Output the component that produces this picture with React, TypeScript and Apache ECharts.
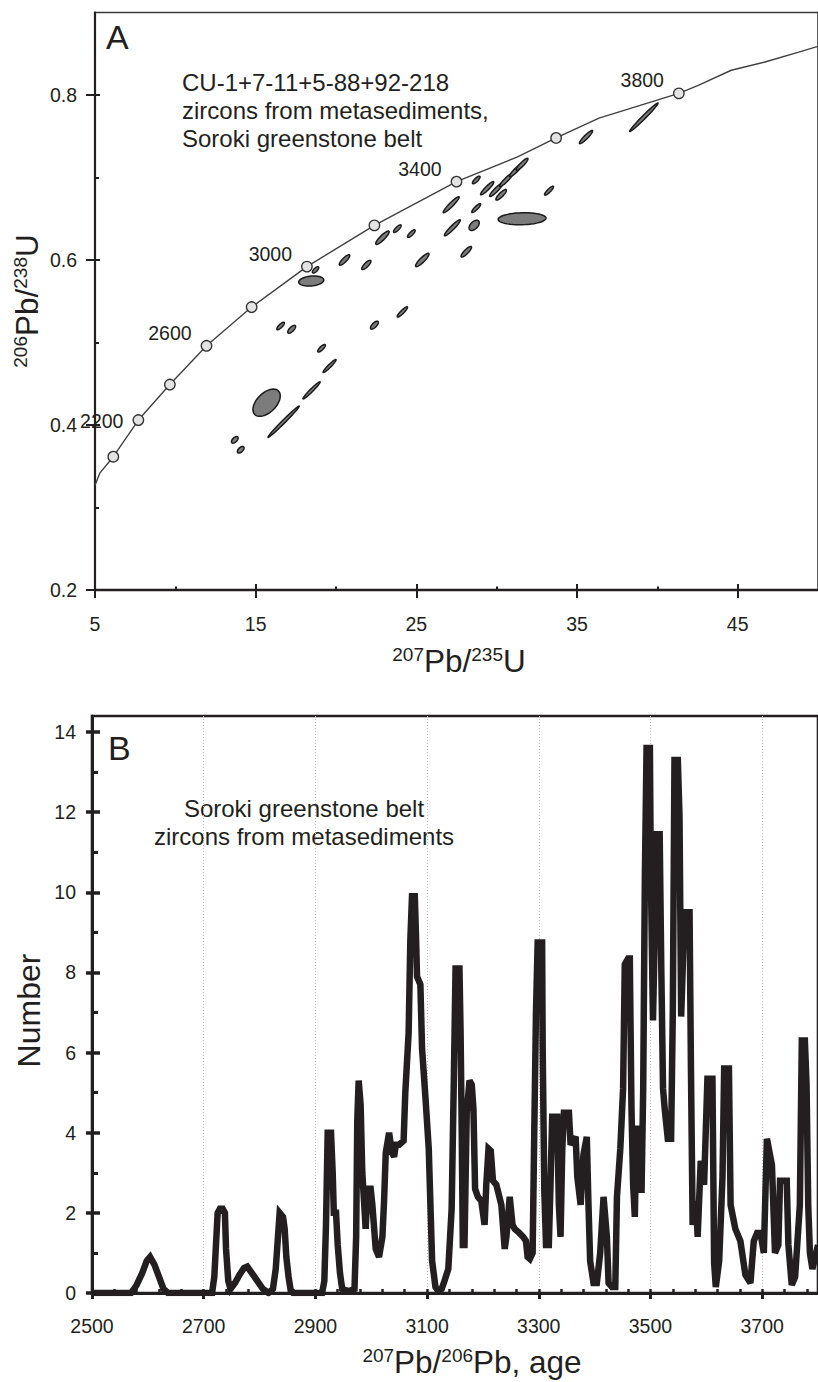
import React, { useEffect, useRef } from 'react';
import * as echarts from 'echarts';

const FONT = '"Liberation Sans", Arial, Helvetica, sans-serif';
const INK = '#231f20';

// ---------- Panel A : concordia diagram ----------
const concordiaX = [5.0, 5.31, 6.14, 7.7, 9.66, 11.94, 14.75, 18.19, 22.39, 27.5, 31.3, 33.7, 36.37, 41.34, 42.58, 44.6, 46.7, 48.8, 50.0];
const concordiaY = [0.327, 0.342, 0.3616, 0.406, 0.449, 0.496, 0.543, 0.592, 0.642, 0.695, 0.725, 0.748, 0.772, 0.802, 0.812, 0.83, 0.84, 0.852, 0.859];

const markerAges = [2000, 2200, 2400, 2600, 2800, 3000, 3200, 3400, 3600, 3800];
const markerX = [6.14, 7.7, 9.66, 11.94, 14.75, 18.19, 22.39, 27.5, 33.7, 41.34];
const markerY = [0.3616, 0.406, 0.449, 0.496, 0.543, 0.592, 0.642, 0.695, 0.748, 0.802];
const labeledAges = [2200, 2600, 3000, 3400, 3800];

// error ellipses: centre (207Pb/235U, 206Pb/238U), half-axes, correlation
const ellX = [18.73, 18.46, 20.53, 21.89, 22.89, 23.82, 24.69, 25.37, 28.11, 27.17, 27.24, 28.6, 28.73, 29.41, 28.73, 29.97, 30.59, 31.21, 31.58, 30.28, 33.26, 31.58, 16.55, 17.24, 22.39, 24.13, 19.1, 19.6, 15.68, 18.48, 16.74, 13.7, 14.07, 35.56, 39.16];
const ellY = [0.588, 0.5745, 0.6, 0.594, 0.627, 0.638, 0.632, 0.6, 0.61, 0.667, 0.639, 0.642, 0.697, 0.687, 0.663, 0.685, 0.697, 0.709, 0.716, 0.679, 0.684, 0.65, 0.52, 0.516, 0.521, 0.537, 0.493, 0.4715, 0.427, 0.442, 0.404, 0.382, 0.37, 0.749, 0.773];
const ellSx = [0.196, 0.78, 0.327, 0.285, 0.417, 0.237, 0.237, 0.417, 0.327, 0.495, 0.495, 0.317, 0.237, 0.41, 0.278, 0.41, 0.41, 0.41, 0.368, 0.327, 0.278, 1.49, 0.237, 0.245, 0.245, 0.32, 0.237, 0.405, 0.85, 0.534, 0.97, 0.207, 0.207, 0.41, 0.885];
const ellSy = [0.0038, 0.0061, 0.0064, 0.0056, 0.0081, 0.0046, 0.0046, 0.0081, 0.0064, 0.0097, 0.0097, 0.0062, 0.0046, 0.008, 0.0054, 0.008, 0.008, 0.008, 0.0072, 0.0064, 0.0054, 0.0073, 0.0046, 0.0048, 0.0048, 0.0062, 0.0046, 0.0079, 0.0165, 0.0104, 0.0189, 0.004, 0.004, 0.008, 0.0173];
const ellRho = [0.7, 0.2, 0.85, 0.8, 0.88, 0.8, 0.8, 0.88, 0.85, 0.94, 0.94, 0.5, 0.8, 0.92, 0.87, 0.92, 0.92, 0.92, 0.9, 0.85, 0.87, 0.1, 0.8, 0.7, 0.7, 0.9, 0.8, 0.95, 0.5, 0.97, 0.99, 0.55, 0.55, 0.92, 0.985];

const ratioTicksX = [5, 15, 25, 35, 45];
const ratioMinorX = [10, 20, 30, 40];
const ratioTicksY = [0.2, 0.4, 0.6, 0.8];
const ratioMinorY = [0.3, 0.5, 0.7];

// ---------- Panel B : age probability curve ----------
const ages = [
  2500, 2570, 2580, 2590, 2598, 2604, 2612, 2620, 2628, 2636,
  2715, 2719, 2722, 2725, 2729, 2734, 2738, 2740, 2744, 2748,
  2756, 2764, 2772, 2778, 2786, 2796, 2806, 2816, 2824, 2829,
  2833, 2836, 2842, 2845, 2848, 2852, 2856, 2860, 2912, 2916,
  2919, 2922, 2928, 2931, 2933, 2937, 2940, 2944, 2948, 2960,
  2970, 2973, 2975, 2977.5, 2981, 2984, 2987.5, 2990, 2993.5, 2999,
  3002, 3008, 3014, 3020, 3023, 3026, 3032, 3037, 3041, 3044,
  3050, 3058, 3061, 3067, 3070, 3073, 3078, 3080, 3082, 3088,
  3091, 3097, 3103, 3106, 3109, 3115, 3120, 3126, 3130, 3138,
  3144, 3148, 3151, 3158, 3160, 3162, 3164, 3167, 3171, 3176,
  3180, 3183, 3186, 3191, 3197, 3203, 3206, 3210, 3214, 3218,
  3224, 3233, 3239, 3242, 3248, 3253, 3257, 3265, 3272, 3277,
  3280, 3284, 3289, 3292, 3295, 3298, 3306, 3307, 3310, 3313,
  3318, 3321, 3324, 3333, 3334, 3336, 3339, 3342, 3345, 3354,
  3357, 3366, 3369, 3375, 3380, 3386, 3389, 3392, 3398, 3404,
  3410, 3416, 3422, 3425, 3431, 3437, 3440, 3446, 3451, 3454,
  3460, 3463, 3466, 3469, 3472, 3475, 3481, 3484, 3487, 3490,
  3493, 3499, 3500.5, 3504.5, 3507.5, 3510.5, 3516.5, 3519.5, 3522.5, 3525.5,
  3531, 3537, 3540, 3543, 3549, 3552, 3555, 3558, 3561, 3570,
  3572.5, 3575.5, 3581.5, 3584.5, 3590, 3596, 3602, 3611, 3614, 3617,
  3623, 3629, 3632, 3640.5, 3643.5, 3652, 3661, 3670, 3679, 3685,
  3691, 3697, 3703, 3708.5, 3717.5, 3723, 3729, 3732, 3744, 3747,
  3753, 3759, 3767.5, 3771, 3776.5, 3779.5, 3782.5, 3785.5, 3790, 3800,
];
const counts = [
  0, 0, 0.2, 0.5, 0.8, 0.9, 0.7, 0.4, 0.1, 0,
  0, 0.4, 1.2, 2.0, 2.1, 2.1, 2.0, 1.1, 0.3, 0.1,
  0.25, 0.45, 0.62, 0.66, 0.5, 0.3, 0.1, 0, 0.1, 0.6,
  1.4, 2.0, 1.9, 1.6, 0.9, 0.4, 0.05, 0, 0, 0.3,
  1.7, 4.0, 4.0, 3.0, 2.0, 2.0, 1.2, 0.5, 0.1, 0.05,
  0.1, 1.4, 4.3, 5.3, 4.7, 3.0, 2.2, 1.6, 2.6, 2.6,
  2.2, 1.1, 0.9, 1.4, 2.3, 3.5, 4.0, 3.5, 3.4, 3.7,
  3.7, 3.8, 5.0, 6.5, 8.8, 9.9, 9.9, 9.0, 7.9, 7.7,
  6.1, 4.9, 3.6, 2.2, 0.8, 0.15, 0.05, 0.1, 0.25, 0.6,
  2.1, 5.4, 8.1, 8.1, 6.5, 4.1, 1.2, 1.2, 4.5, 5.3,
  5.2, 4.6, 2.6, 2.4, 2.3, 1.7, 2.7, 3.6, 3.55, 2.8,
  2.7, 2.2, 1.1, 1.4, 2.4, 1.7, 1.6, 1.5, 1.4, 1.3,
  0.9, 0.85, 1.0, 4.1, 7.0, 8.75, 8.75, 6.1, 2.5, 1.2,
  1.2, 2.7, 4.4, 4.4, 3.6, 2.2, 1.4, 3.55, 4.5, 4.5,
  3.7, 3.9, 2.9, 2.2, 3.45, 3.9, 2.2, 0.8, 0.25, 0.25,
  1.0, 2.4, 1.4, 0.25, 0.15, 0.15, 2.4, 3.6, 5.1, 8.2,
  8.35, 8.35, 4.6, 2.7, 1.9, 4.1, 4.1, 2.5, 5.1, 10.4,
  13.6, 13.6, 10.6, 6.8, 8.8, 11.45, 11.45, 8.0, 5.1, 4.6,
  3.85, 3.85, 7.0, 13.3, 13.3, 11.9, 6.9, 8.2, 9.5, 9.5,
  5.6, 1.7, 2.3, 1.4, 3.3, 2.7, 5.35, 5.35, 0.75, 0.15,
  0.8, 2.9, 5.6, 5.6, 2.2, 1.6, 1.3, 0.45, 0.25, 1.3,
  1.5, 1.5, 1.0, 3.85, 3.2, 1.0, 1.2, 2.8, 2.8, 1.2,
  0.2, 0.4, 2.2, 6.3, 6.3, 5.2, 2.2, 1.0, 0.6, 1.2,
];
const ageTicks = [2500, 2700, 2900, 3100, 3300, 3500, 3700];
const countTicks = [0, 2, 4, 6, 8, 10, 12, 14];
const countMinor = [1, 3, 5, 7, 9, 11, 13];

export default function App() {
  const ref = useRef<HTMLDivElement>(null);

  useEffect(() => {
    document.body.style.margin = '0';
    const chart = echarts.init(ref.current!, null, { renderer: 'svg' });

    const ageMinor: number[] = [];
    for (let a = ageTicks[0] + 40; a < 3800; a += 40) ageMinor.push(a);

    const labelStyle = { fontFamily: FONT, fontSize: 19.5, color: INK };
    const noLine = { show: false };
    const noLabel = { show: false };
    const noSplit = { show: false };

    const ellData = ellX.map((x, i) => [x, ellY[i], ellSx[i], ellSy[i], ellRho[i]]);
    const concData = concordiaX.map((x, i) => [x, concordiaY[i]]);
    const markerData = markerAges.map((age, i) => {
      const lab = labeledAges.includes(age);
      return {
        value: [markerX[i], markerY[i]],
        label: {
          show: lab,
          formatter: String(age),
          position: 'left',
          distance: 9,
          offset: age === 2200 ? [0, 1] : [0, -13],
          ...labelStyle,
        },
      };
    });
    const curveData = ages.map((a, i) => [a, counts[i]]);

    const sup = { fontSize: 19, fontFamily: FONT, verticalAlign: 'top', lineHeight: 22, fill: INK, color: INK };
    const big = { fontSize: 31.5, fontFamily: FONT, lineHeight: 32, fill: INK, color: INK };

    const text = (x: number, y: number, t: string, size: number, align = 'left', extra: any = {}) => ({
      type: 'text',
      x,
      y,
      ...extra,
      style: {
        text: t,
        font: `${size}px ${FONT}`,
        fill: INK,
        align,
        verticalAlign: 'middle',
        textAlign: align,
        textVerticalAlign: 'middle',
      },
    });
    const richText = (x: number, y: number, t: string, rotation = 0) => ({
      type: 'text',
      x,
      y,
      rotation,
      style: {
        text: t,
        font: `31.5px ${FONT}`,
        fill: INK,
        align: 'center',
        verticalAlign: 'middle',
        rich: { sup, big },
      },
    });

    const xOverlay = (grid: number, min: number, max: number, values: number[], inside: boolean, length: number, width: number) => ({
      gridIndex: grid, type: 'value', min, max, position: 'bottom', offset: 0,
      axisLine: noLine, axisLabel: noLabel, splitLine: noSplit,
      axisTick: { customValues: values, inside, length, lineStyle: { color: INK, width } },
    });
    const yOverlay = (grid: number, min: number, max: number, values: number[], inside: boolean, length: number, width: number) => ({
      gridIndex: grid, type: 'value', min, max, position: 'left', offset: 0,
      axisLine: noLine, axisLabel: noLabel, splitLine: noSplit,
      axisTick: { customValues: values, inside, length, lineStyle: { color: INK, width } },
    });

    const option: any = {
      animation: false,
      grid: [
        { left: 95, top: 12.5, width: 724.5, height: 577.5, show: true, borderColor: '#3a3a3a', borderWidth: 1.6, containLabel: false },
        { left: 92, top: 716, width: 733, height: 577, show: true, borderColor: INK, borderWidth: 2.6, containLabel: false },
      ],
      xAxis: [
        {
          gridIndex: 0, type: 'value', min: 5, max: 50, position: 'bottom',
          axisLine: { lineStyle: { color: INK, width: 2.4 } },
          axisTick: { customValues: ratioTicksX, length: 8, lineStyle: { color: INK, width: 2 } },
          axisLabel: { customValues: ratioTicksX, margin: 24, ...labelStyle },
          splitLine: noSplit,
        },
        xOverlay(0, 5, 50, ratioTicksX, true, 6, 2),
        xOverlay(0, 5, 50, ratioMinorX, true, 3.5, 2),
        {
          gridIndex: 1, type: 'value', min: 2500, max: 3800, interval: 200, position: 'bottom',
          axisLine: { lineStyle: { color: INK, width: 3 } },
          axisTick: { customValues: ageTicks, length: 6, lineStyle: { color: INK, width: 3 } },
          axisLabel: { customValues: ageTicks, margin: 22.5, formatter: (v: number) => String(v), ...labelStyle },
          splitLine: { show: true, lineStyle: { color: '#b8b8b8', width: 1, type: [1, 2] } },
        },
        xOverlay(1, 2500, 3800, ageMinor, true, 4, 2.5),
      ],
      yAxis: [
        {
          gridIndex: 0, type: 'value', min: 0.2, max: 0.9, position: 'left',
          axisLine: { lineStyle: { color: INK, width: 2.2 } },
          axisTick: { customValues: ratioTicksY, length: 9, lineStyle: { color: INK, width: 2 } },
          axisLabel: { customValues: ratioTicksY, margin: 18, formatter: (v: number) => v.toFixed(1), ...labelStyle },
          splitLine: noSplit,
        },
        yOverlay(0, 0.2, 0.9, ratioTicksY, true, 5, 2),
        yOverlay(0, 0.2, 0.9, ratioMinorY, true, 4, 2),
        {
          gridIndex: 1, type: 'value', min: 0, max: 14.4, position: 'left',
          axisLine: { lineStyle: { color: INK, width: 3 } },
          axisTick: { customValues: countTicks, length: 6, lineStyle: { color: INK, width: 3.5 } },
          axisLabel: { customValues: countTicks, margin: 16, formatter: (v: number) => String(v), ...labelStyle },
          splitLine: noSplit,
        },
        yOverlay(1, 0, 14.4, countTicks, true, 8, 3.5),
        yOverlay(1, 0, 14.4, countMinor, true, 6, 3),
      ],
      series: [
        {
          type: 'custom',
          xAxisIndex: 0,
          yAxisIndex: 0,
          data: ellData,
          encode: { x: 0, y: 1 },
          renderItem: (_p: any, api: any) => {
            const cx = api.value(0), cy = api.value(1), sx = api.value(2), sy = api.value(3), r = api.value(4);
            const k = Math.sqrt(1 - r * r);
            const pts: number[][] = [];
            for (let i = 0; i < 48; i++) {
              const t = (i / 48) * Math.PI * 2;
              pts.push(api.coord([cx + sx * Math.cos(t), cy + sy * (r * Math.cos(t) + k * Math.sin(t))]));
            }
            return { type: 'polygon', shape: { points: pts }, style: { fill: '#7c7c7c', stroke: '#1a1a1a', lineWidth: 1.5 } };
          },
          z: 2,
        },
        {
          type: 'line',
          xAxisIndex: 0,
          yAxisIndex: 0,
          data: concData,
          showSymbol: false,
          symbol: 'none',
          lineStyle: { color: '#404040', width: 1.4 },
          z: 3,
        },
        {
          type: 'scatter',
          xAxisIndex: 0,
          yAxisIndex: 0,
          data: markerData,
          symbol: 'circle',
          symbolSize: 10.5,
          itemStyle: { color: '#e3e3e3', borderColor: '#333', borderWidth: 1.3, opacity: 1 },
          z: 4,
        },
        {
          type: 'line',
          xAxisIndex: 3,
          yAxisIndex: 3,
          data: curveData,
          showSymbol: false,
          symbol: 'none',
          lineStyle: { color: INK, width: 6.5, join: 'miter', miterLimit: 3 },
          z: 3,
        },
      ],
      graphic: [
        text(106, 36.5, 'A', 34),
        text(182, 82.3, 'CU-1+7-11+5-88+92-218', 24),
        text(182, 110.5, 'zircons from metasediments,', 24),
        text(182, 138.8, 'Soroki greenstone belt', 24),
        text(108, 748, 'B', 34),
        text(304, 808, 'Soroki greenstone belt', 24, 'center'),
        text(304, 836.5, 'zircons from metasediments', 24, 'center'),
        richText(459, 661, '{sup|207}{big|Pb/}{sup|235}{big|U}'),
        richText(27, 301, '{sup|206}{big|Pb/}{sup|238}{big|U}', Math.PI / 2),
        richText(472, 1361.5, '{sup|207}{big|Pb/}{sup|206}{big|Pb, age}'),
        text(29, 1010.5, 'Number', 32, 'center', { rotation: Math.PI / 2 }),
      ],
    };

    chart.setOption(option);
    return () => chart.dispose();
  }, []);

  return <div ref={ref} style={{ width: 818, height: 1382 }} />;
}
